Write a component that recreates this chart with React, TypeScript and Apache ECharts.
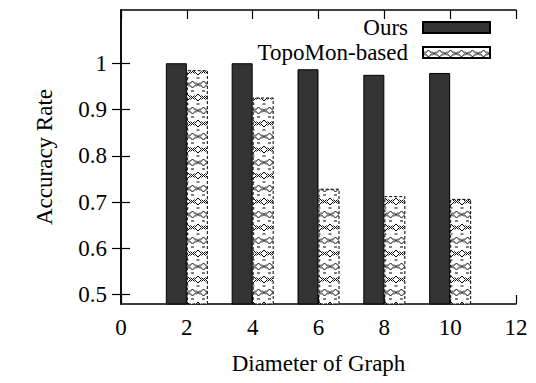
import React, { useEffect, useRef } from "react";
import * as echarts from "echarts";

const diameters = [2, 4, 6, 8, 10];
const oursValues = [1.0, 1.0, 0.987, 0.975, 0.979];
const topoMonValues = [0.985, 0.926, 0.729, 0.713, 0.707];
const yTicks = [0.5, 0.6, 0.7, 0.8, 0.9, 1.0];
const seriesNames = ["Ours", "TopoMon-based"];

const FONT = '"Liberation Serif", "DejaVu Serif", serif';

function makePattern(): HTMLCanvasElement {
  const W = 11;
  const H = 26;
  const c = document.createElement("canvas");
  c.width = W;
  c.height = H;
  const ctx = c.getContext("2d")!;
  ctx.fillStyle = "#ffffff";
  ctx.fillRect(0, 0, W, H);
  ctx.strokeStyle = "#000000";
  ctx.lineWidth = 1;
  const diamond = (cx: number, cy: number) => {
    ctx.beginPath();
    ctx.moveTo(cx, cy - 3.5);
    ctx.lineTo(cx + 3.5, cy);
    ctx.lineTo(cx, cy + 3.5);
    ctx.lineTo(cx - 3.5, cy);
    ctx.closePath();
    ctx.stroke();
  };
  const cross = (cx: number, cy: number) => {
    ctx.beginPath();
    ctx.moveTo(cx - 2, cy - 2);
    ctx.lineTo(cx + 2, cy + 2);
    ctx.moveTo(cx + 2, cy - 2);
    ctx.lineTo(cx - 2, cy + 2);
    ctx.stroke();
  };
  const bar = (cx: number, cy: number) => {
    ctx.beginPath();
    ctx.moveTo(cx - 1.5, cy);
    ctx.lineTo(cx + 1.5, cy);
    ctx.stroke();
  };
  for (const dx of [-W, 0, W]) {
    for (const dy of [-H, 0, H]) {
      diamond(5.5 + dx, 6.5 + dy);
      cross(5.5 + dx, 19.5 + dy);
      diamond(0 + dx, 19.5 + dy);
      cross(0 + dx, 6.5 + dy);
      bar(5.5 + dx, 13 + dy);
      bar(0 + dx, 0 + dy);
    }
  }
  return c;
}

export default function App() {
  const ref = useRef<HTMLDivElement>(null);

  useEffect(() => {
    if (!ref.current) return;
    const chart = echarts.init(ref.current, null, { renderer: "svg" });
    const pattern = makePattern();
    const axisLine = { show: true, lineStyle: { color: "#000", width: 1.5 } };
    const tick = { show: true, inside: true, length: 9, lineStyle: { color: "#000", width: 1.2 } };
    const labelStyle = { color: "#000", fontFamily: FONT, fontSize: 23 };

    chart.setOption({
      animation: false,
      backgroundColor: "#fff",
      textStyle: { fontFamily: FONT },
      grid: { left: 121, right: 20, top: 10, bottom: 79, containLabel: false },
      legend: {
        orient: "vertical",
        right: 45,
        top: 15,
        padding: 0,
        align: "right",
        itemWidth: 67,
        itemHeight: 11,
        itemGap: 0,
        icon: "rect",
        data: seriesNames,
        textStyle: { ...labelStyle, lineHeight: 25, padding: [0, 10, 0, 0] },
      },
      xAxis: [
        {
          type: "value",
          min: 0,
          max: 12,
          interval: 2,
          position: "bottom",
          name: "Diameter of Graph",
          nameLocation: "middle",
          nameGap: 48,
          nameTextStyle: labelStyle,
          axisLine,
          axisTick: tick,
          axisLabel: { ...labelStyle, margin: 12 },
          splitLine: { show: false },
        },
        {
          type: "value",
          min: 0,
          max: 12,
          interval: 2,
          position: "top",
          axisLine,
          axisTick: tick,
          axisLabel: { show: false },
          splitLine: { show: false },
        },
      ],
      yAxis: [
        {
          type: "value",
          min: 0.48,
          max: 1.115,
          position: "left",
          name: "Accuracy Rate",
          nameLocation: "middle",
          nameRotate: 90,
          nameGap: 65,
          nameTextStyle: labelStyle,
          axisLine,
          axisTick: { ...tick, customValues: yTicks },
          axisLabel: {
            ...labelStyle,
            margin: 14,
            customValues: yTicks,
            formatter: (v: number) => String(Math.round(v * 10) / 10),
          },
          splitLine: { show: false },
        },
        {
          type: "value",
          min: 0.48,
          max: 1.115,
          position: "right",
          axisLine,
          axisTick: { ...tick, customValues: yTicks },
          axisLabel: { show: false, customValues: yTicks },
          splitLine: { show: false },
        },
      ],
      series: [
        {
          name: seriesNames[0],
          type: "bar",
          xAxisIndex: 0,
          yAxisIndex: 0,
          barWidth: 21,
          barGap: "0%",
          data: diameters.map((d, i) => [d, oursValues[i]]),
          itemStyle: { color: "#333333", borderColor: "#000", borderWidth: 1 },
        },
        {
          name: seriesNames[1],
          type: "bar",
          xAxisIndex: 0,
          yAxisIndex: 0,
          barWidth: 21,
          barGap: "0%",
          data: diameters.map((d, i) => [d, topoMonValues[i]]),
          itemStyle: {
            color: { image: pattern, repeat: "repeat" },
            borderColor: "#000",
            borderWidth: 1,
            borderType: [3, 2],
          },
        },
      ],
    });
    return () => chart.dispose();
  }, []);

  return (
    <div
      ref={ref}
      style={{ position: "absolute", left: 0, top: 0, width: 536, height: 383 }}
    />
  );
}
